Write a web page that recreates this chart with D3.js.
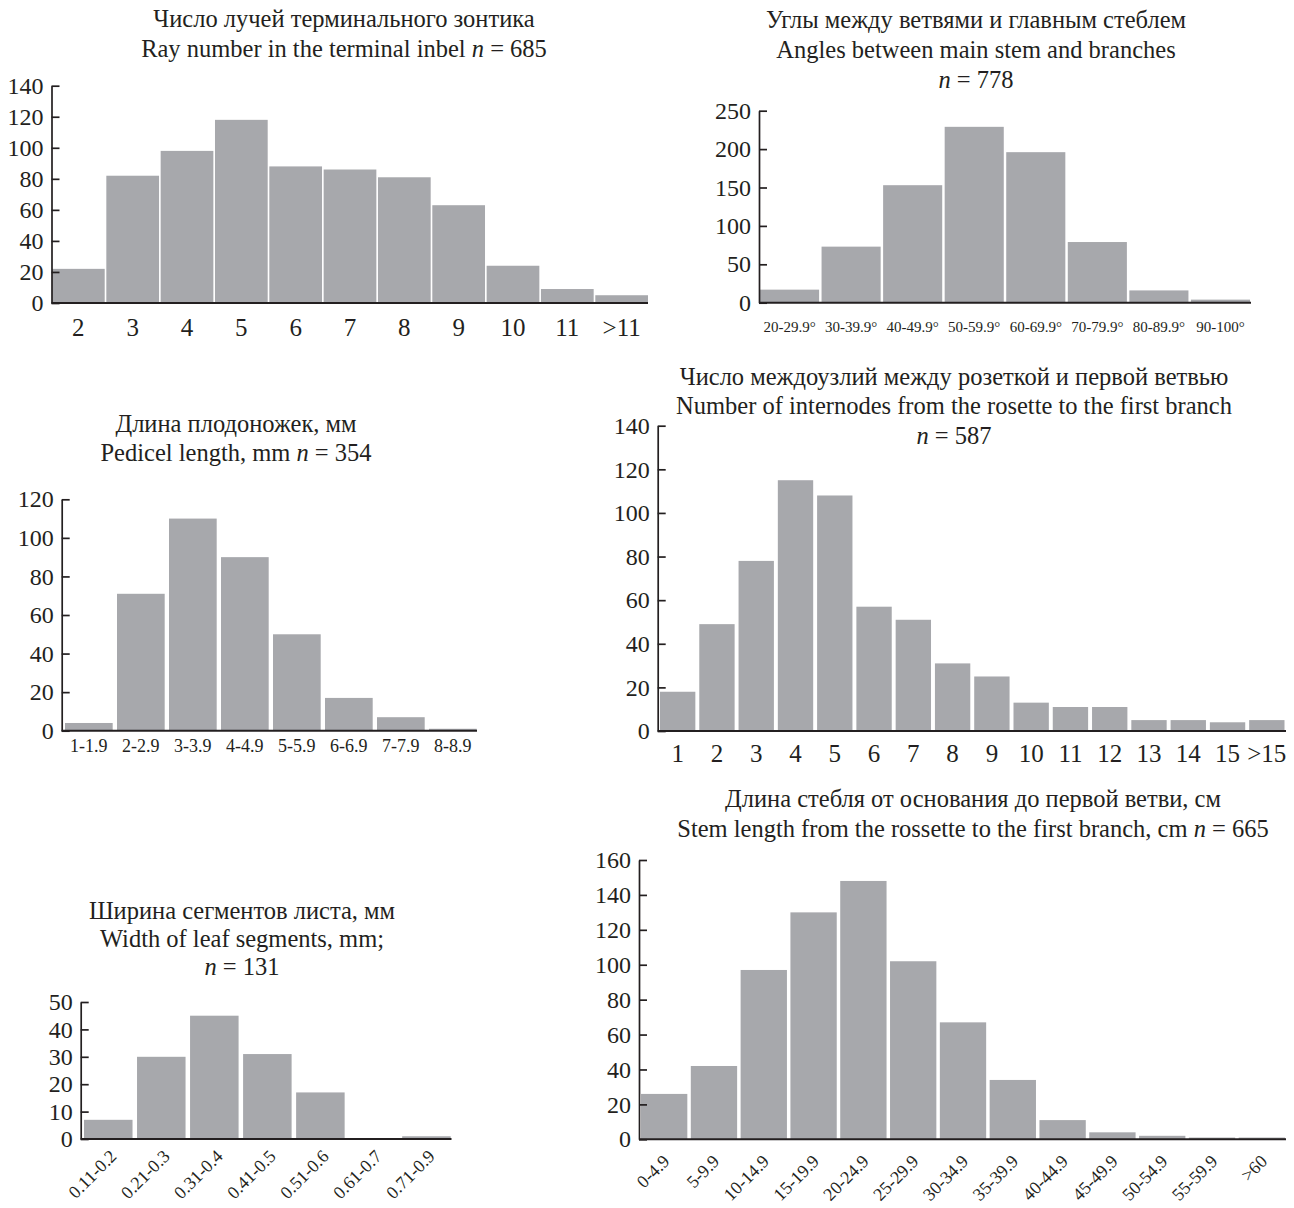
<!DOCTYPE html>
<html lang="en">
    <head>
        <meta charset="utf-8">
        <title>Histograms</title>
        <script type="text/javascript" src="https://d3js.org/d3.v7.min.js"></script>
        <style type="text/css">
          body { margin: 0; background: #fff; }
          text { font-family: "Liberation Serif", "Times New Roman", serif; fill: #231f20; }
          .bars { fill: #a7a8ac; }
          .axis path, .axis line { stroke: #231f20; stroke-width: 1.7px; }
          .xline { stroke: #231f20; stroke-width: 1.9px; }
        </style>
    </head>
    <body>
        <svg width="1294" height="1208"></svg>
        <script type="text/javascript">

            // ---- data ----
            const rayCats = ["2", "3", "4", "5", "6", "7", "8", "9", "10", "11", ">11"];
            const rayCounts = [22, 82, 98, 118, 88, 86, 81, 63, 24, 9, 5];

            const angleCats = ["20-29.9°", "30-39.9°", "40-49.9°", "50-59.9°", "60-69.9°", "70-79.9°", "80-89.9°", "90-100°"];
            const angleCounts = [17, 73, 153, 229, 196, 79, 16, 4];

            const pedicelCats = ["1-1.9", "2-2.9", "3-3.9", "4-4.9", "5-5.9", "6-6.9", "7-7.9", "8-8.9"];
            const pedicelCounts = [4, 71, 110, 90, 50, 17, 7, 1];

            const internodeCats = ["1", "2", "3", "4", "5", "6", "7", "8", "9", "10", "11", "12", "13", "14", "15", ">15"];
            const internodeCounts = [18, 49, 78, 115, 108, 57, 51, 31, 25, 13, 11, 11, 5, 5, 4, 5];

            const leafCats = ["0.11-0.2", "0.21-0.3", "0.31-0.4", "0.41-0.5", "0.51-0.6", "0.61-0.7", "0.71-0.9"];
            const leafCounts = [7, 30, 45, 31, 17, 0, 1];

            const stemCats = ["0-4.9", "5-9.9", "10-14.9", "15-19.9", "20-24.9", "25-29.9", "30-34.9", "35-39.9", "40-44.9", "45-49.9", "50-54.9", "55-59.9", ">60"];
            const stemCounts = [26, 42, 97, 130, 148, 102, 67, 34, 11, 4, 2, 1, 1];

            // y tick values
            const rayTicks = [0, 20, 40, 60, 80, 100, 120, 140];
            const angleTicks = [0, 50, 100, 150, 200, 250];
            const pedicelTicks = [0, 20, 40, 60, 80, 100, 120];
            const internodeTicks = [0, 20, 40, 60, 80, 100, 120, 140];
            const leafTicks = [0, 10, 20, 30, 40, 50];
            const stemTicks = [0, 20, 40, 60, 80, 100, 120, 140, 160];

            const svg = d3.select("svg");

            //panel layout (positions only); title parts equal to "n" are set italic
            const panels = [
              {cats: rayCats, vals: rayCounts, ticks: rayTicks,
               ax: 51.5, x0: 52, x1: 648, xEnd: 648, yTop: 85.7, yBot: 303, pad: 0.03,
               lblSize: 25, lblY: 327, rotate: false,
               titleX: 344, titleY: [18, 48],
               title: [["Число лучей терминального зонтика"], ["Ray number in the terminal inbel ", "n", " = 685"]]},
              {cats: angleCats, vals: angleCounts, ticks: angleTicks,
               ax: 759, x0: 760, x1: 1250, xEnd: 1251, yTop: 110.7, yBot: 302.7, pad: 0.04,
               lblSize: 15, lblY: 327, rotate: false,
               titleX: 976, titleY: [19, 49, 79],
               title: [["Углы между ветвями и главным стеблем"], ["Angles between main stem and branches"], ["n", " = 778"]]},
              {cats: pedicelCats, vals: pedicelCounts, ticks: pedicelTicks,
               ax: 61.7, x0: 65, x1: 476.7, xEnd: 477, yTop: 499.3, yBot: 730.7, pad: 0.083,
               lblSize: 18, lblY: 746, rotate: false,
               titleX: 236, titleY: [423, 452],
               title: [["Длина плодоножек, мм"], ["Pedicel length, mm ", "n", " = 354"]]},
              {cats: internodeCats, vals: internodeCounts, ticks: internodeTicks,
               ax: 657.7, x0: 660, x1: 1284.5, xEnd: 1286, yTop: 425.7, yBot: 731, pad: 0.1,
               lblSize: 25, lblY: 753, rotate: false,
               titleX: 954, titleY: [376, 405, 435],
               title: [["Число междоузлий между розеткой и первой ветвью"], ["Number of internodes from the rosette to the first branch"], ["n", " = 587"]]},
              {cats: leafCats, vals: leafCounts, ticks: leafTicks,
               ax: 80.7, x0: 84, x1: 450.7, xEnd: 451.5, yTop: 1002, yBot: 1139, pad: 0.085,
               lblSize: 18, lblY: 1153, rotate: true, lblDx: 5,
               titleX: 242, titleY: [910, 938, 966],
               title: [["Ширина сегментов листа, мм"], ["Width of leaf segments, mm;"], ["n", " = 131"]]},
              {cats: stemCats, vals: stemCounts, ticks: stemTicks,
               ax: 639, x0: 641, x1: 1285, xEnd: 1286, yTop: 860, yBot: 1139.3, pad: 0.07,
               lblSize: 18, lblY: 1158, rotate: true, lblDx: 2,
               titleX: 973, titleY: [798, 828],
               title: [["Длина стебля от основания до первой ветви, см"], ["Stem length from the rossette to the first branch, cm ", "n", " = 665"]]}
            ];

            panels.forEach(p => {
              const g = svg.append("g");

              const x = d3.scaleBand()
                          .domain(p.cats)
                          .range([p.x0, p.x1])
                          .paddingInner(p.pad)
                          .paddingOuter(0);

              const y = d3.scaleLinear()
                          .domain([0, d3.max(p.ticks)])
                          .range([p.yBot, p.yTop]);

              //bars
              g.selectAll("rect")
               .data(p.cats.map((c, i) => ({c: c, v: p.vals[i]})))
               .enter()
               .append("rect")
               .attr("class", "bars")
               .attr("x", d => x(d.c))
               .attr("width", x.bandwidth())
               .attr("y", d => y(d.v))
               .attr("height", d => y(0) - y(d.v));

              //y axis, ticks pointing inward
              const yAxis = g.append("g")
                             .attr("class", "axis")
                             .attr("transform", `translate(${p.ax},0)`)
                             .call(d3.axisLeft(y)
                                     .tickValues(p.ticks)
                                     .tickSizeInner(-8)
                                     .tickSizeOuter(0)
                                     .tickPadding(8));
              yAxis.selectAll("text")
                   .style("font-size", "24px")
                   .attr("fill", "#231f20");

              //x baseline
              g.append("line")
               .attr("class", "xline")
               .attr("x1", p.ax)
               .attr("x2", p.xEnd)
               .attr("y1", y(0))
               .attr("y2", y(0));

              //x labels
              const lbl = g.selectAll(".xlbl")
                           .data(p.cats)
                           .enter()
                           .append("text")
                           .attr("class", "xlbl")
                           .style("font-size", p.lblSize + "px")
                           .text(d => d);
              if (p.rotate) {
                lbl.attr("text-anchor", "end")
                   .attr("dy", "0.35em")
                   .attr("transform", d => `translate(${x(d) + x.bandwidth() / 2 + p.lblDx},${p.lblY}) rotate(-45)`);
              } else {
                lbl.attr("text-anchor", "middle")
                   .attr("dy", "0.35em")
                   .attr("x", d => x(d) + x.bandwidth() / 2)
                   .attr("y", p.lblY);
              }

              //title lines
              p.title.forEach((parts, li) => {
                const t = g.append("text")
                           .attr("x", p.titleX)
                           .attr("y", p.titleY[li])
                           .attr("dy", "0.35em")
                           .attr("text-anchor", "middle")
                           .style("font-size", "24.5px");
                parts.forEach(s => {
                  t.append("tspan")
                   .style("font-style", s === "n" ? "italic" : "normal")
                   .text(s);
                });
              });
            });

        </script>
    </body>
</html>
